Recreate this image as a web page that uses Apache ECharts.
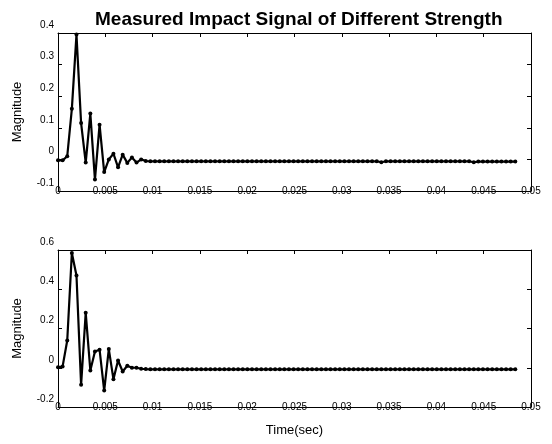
<!DOCTYPE html>
<html>
<head>
<meta charset="utf-8">
<script src="https://cdn.jsdelivr.net/npm/echarts@6/dist/echarts.min.js"></script>
<style>
  html, body { margin: 0; background: #fff; }
  #chart { width: 552px; height: 444px; }
</style>
</head>
<body>
<div id="chart"></div>
<script>
// sampling period of the recorder (seconds)
const SAMPLE_STEP = 1 / 2048;

// first impact, weaker
const upperSignal = [
  -0.003, -0.003, 0.010, 0.160, 0.395, 0.115, -0.010, 0.145, -0.064, 0.110,
  -0.040, 0.000, 0.018, -0.025, 0.015, -0.011, 0.006, -0.010, 0.000, -0.005,
  -0.006, -0.006, -0.006, -0.006, -0.006, -0.006, -0.006, -0.006, -0.006, -0.006,
  -0.006, -0.006, -0.006, -0.006, -0.006, -0.006, -0.006, -0.006, -0.006, -0.006,
  -0.006, -0.006, -0.006, -0.006, -0.006, -0.006, -0.006, -0.006, -0.006, -0.006,
  -0.006, -0.006, -0.006, -0.006, -0.006, -0.006, -0.006, -0.006, -0.006, -0.006,
  -0.006, -0.006, -0.006, -0.006, -0.006, -0.006, -0.006, -0.006, -0.006, -0.006,
  -0.009, -0.006, -0.006, -0.006, -0.006, -0.006, -0.006, -0.006, -0.006, -0.006,
  -0.006, -0.006, -0.006, -0.006, -0.006, -0.006, -0.006, -0.006, -0.006, -0.006,
  -0.009, -0.007, -0.007, -0.007, -0.007, -0.007, -0.007, -0.007, -0.007, -0.007
];

// second impact, stronger
const lowerSignal = [
  0.002, 0.007, 0.139, 0.585, 0.470, -0.087, 0.280, -0.014, 0.083, 0.092,
  -0.116, 0.095, -0.058, 0.037, -0.019, 0.010, 0.000, 0.000, -0.005, -0.007,
  -0.008, -0.008, -0.008, -0.008, -0.008, -0.008, -0.008, -0.008, -0.008, -0.008,
  -0.008, -0.008, -0.008, -0.008, -0.008, -0.008, -0.008, -0.008, -0.008, -0.008,
  -0.008, -0.008, -0.008, -0.008, -0.008, -0.008, -0.008, -0.008, -0.008, -0.008,
  -0.008, -0.008, -0.008, -0.008, -0.008, -0.008, -0.008, -0.008, -0.008, -0.008,
  -0.008, -0.008, -0.008, -0.008, -0.008, -0.008, -0.008, -0.008, -0.008, -0.008,
  -0.008, -0.008, -0.008, -0.008, -0.008, -0.008, -0.008, -0.008, -0.008, -0.008,
  -0.008, -0.008, -0.008, -0.008, -0.008, -0.008, -0.008, -0.008, -0.008, -0.008,
  -0.008, -0.008, -0.008, -0.008, -0.008, -0.008, -0.008, -0.008, -0.008, -0.008
];

const FONT = "'Liberation Sans', Arial, sans-serif";

function toPairs(values) {
  return values.map((v, i) => [i * SAMPLE_STEP, v]);
}

const frameLine = { show: true, onZero: false, lineStyle: { color: '#000', width: 1 } };

function bottomXAxis(gridIndex, withName) {
  return {
    type: 'value',
    gridIndex,
    position: 'bottom',
    min: 0,
    max: 0.05,
    interval: 0.005,
    name: withName ? 'Time(sec)' : '',
    nameLocation: 'middle',
    nameGap: 17,
    nameTextStyle: { color: '#000', fontSize: 13, fontFamily: FONT },
    axisLine: frameLine,
    axisTick: { show: false },
    axisLabel: {
      color: '#000',
      fontSize: 10,
      fontFamily: FONT,
      margin: 0,
      verticalAlign: 'middle',
      formatter: (v) => String(+v.toFixed(3))
    },
    splitLine: { show: false }
  };
}

function topXAxis(gridIndex) {
  return {
    type: 'value',
    gridIndex,
    position: 'top',
    min: 0,
    max: 0.05,
    interval: 0.005,
    axisLine: frameLine,
    axisTick: { show: true, inside: true, length: 4, lineStyle: { color: '#000' } },
    axisLabel: { show: false },
    splitLine: { show: false }
  };
}

function leftYAxis(gridIndex, min, max, interval) {
  return {
    type: 'value',
    gridIndex,
    position: 'left',
    min,
    max,
    interval,
    name: 'Magnitude',
    nameLocation: 'middle',
    nameGap: 34,
    nameTextStyle: { color: '#000', fontSize: 13, fontFamily: FONT },
    axisLine: frameLine,
    axisTick: { show: true, inside: true, length: 4, lineStyle: { color: '#000' } },
    axisLabel: {
      color: '#000',
      fontSize: 10,
      fontFamily: FONT,
      margin: 4,
      verticalAlign: 'bottom',
      padding: [0, 0, 3, 0]
    },
    splitLine: { show: false }
  };
}

function rightYAxis(gridIndex, min, max, interval) {
  return {
    type: 'value',
    gridIndex,
    position: 'right',
    min,
    max,
    interval,
    axisLine: frameLine,
    axisTick: { show: true, inside: true, length: 4, lineStyle: { color: '#000' } },
    axisLabel: { show: false },
    splitLine: { show: false }
  };
}

function signalSeries(axisIndex, values) {
  return {
    type: 'line',
    xAxisIndex: axisIndex,
    yAxisIndex: axisIndex,
    data: toPairs(values),
    symbol: 'circle',
    symbolSize: 4,
    showAllSymbol: true,
    animation: false,
    lineStyle: { color: '#000', width: 2.2 },
    itemStyle: { color: '#000' }
  };
}

const chart = echarts.init(document.getElementById('chart'), null, { renderer: 'canvas' });

chart.setOption({
  backgroundColor: '#fff',
  animation: false,
  title: {
    text: 'Measured Impact Signal of Different Strength',
    left: 90,
    top: 5,
    textStyle: { color: '#000', fontSize: 19, fontWeight: 'bold', fontFamily: FONT }
  },
  grid: [
    { left: 58, right: 21, top: 33, height: 158 },
    { left: 58, right: 21, top: 250, height: 157 }
  ],
  xAxis: [
    bottomXAxis(0, false),
    bottomXAxis(1, true),
    topXAxis(0),
    topXAxis(1)
  ],
  yAxis: [
    leftYAxis(0, -0.1, 0.4, 0.1),
    leftYAxis(1, -0.2, 0.6, 0.2),
    rightYAxis(0, -0.1, 0.4, 0.1),
    rightYAxis(1, -0.2, 0.6, 0.2)
  ],
  series: [
    signalSeries(0, upperSignal),
    signalSeries(1, lowerSignal)
  ]
});
</script>
</body>
</html>
